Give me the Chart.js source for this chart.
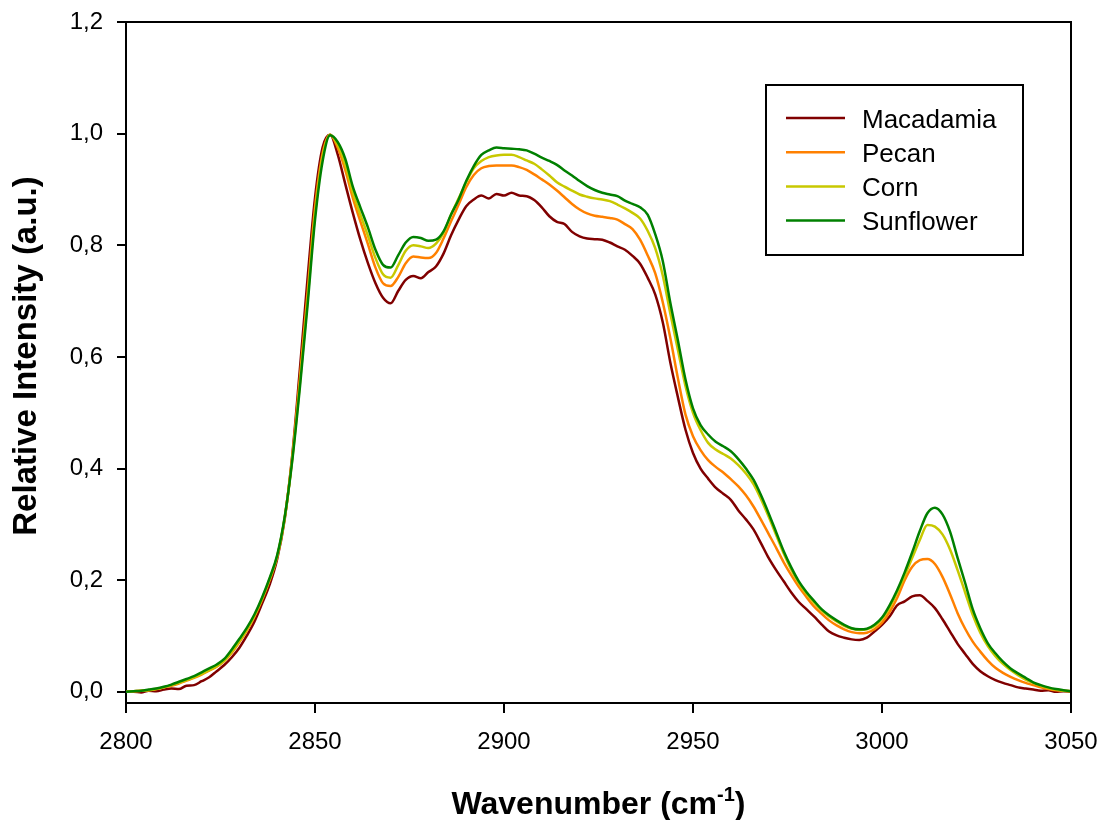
<!DOCTYPE html>
<html>
<head>
<meta charset="utf-8">
<title>Raman spectra - C-H stretching region</title>
<script src="https://cdn.jsdelivr.net/npm/chart.js@4.4.0/dist/chart.umd.min.js"></script>
<style>
  html, body { margin: 0; padding: 0; background: #fff; }
  #chart { display: block; }
</style>
</head>
<body>
<canvas id="chart" width="1104" height="820"></canvas>
<script>
// Wavenumber grid (cm-1)
const wavenumbers = [
  2800, 2802, 2804, 2806, 2808, 2810, 2812, 2814, 2816, 2818,
  2820, 2822, 2824, 2826, 2828, 2830, 2832, 2834, 2836, 2838,
  2840, 2842, 2844, 2846, 2848, 2850, 2852, 2854, 2856, 2858,
  2860, 2862, 2864, 2866, 2868, 2870, 2872, 2874, 2876, 2878,
  2880, 2882, 2884, 2886, 2888, 2890, 2892, 2894, 2896, 2898,
  2900, 2902, 2904, 2906, 2908, 2910, 2912, 2914, 2916, 2918,
  2920, 2922, 2924, 2926, 2928, 2930, 2932, 2934, 2936, 2938,
  2940, 2942, 2944, 2946, 2948, 2950, 2952, 2954, 2956, 2958,
  2960, 2962, 2964, 2966, 2968, 2970, 2972, 2974, 2976, 2978,
  2980, 2982, 2984, 2986, 2988, 2990, 2992, 2994, 2996, 2998,
  3000, 3002, 3004, 3006, 3008, 3010, 3012, 3014, 3016, 3018,
  3020, 3022, 3024, 3026, 3028, 3030, 3032, 3034, 3036, 3038,
  3040, 3042, 3044, 3046, 3048, 3050
];

const macadamia = [
  0.000, 0.000, -0.001, 0.002, 0.001, 0.004, 0.006, 0.005, 0.011, 0.012,
  0.019, 0.026, 0.037, 0.048, 0.062, 0.079, 0.101, 0.126, 0.158, 0.192,
  0.238, 0.310, 0.425, 0.578, 0.738, 0.885, 0.975, 0.998, 0.963, 0.910,
  0.858, 0.810, 0.768, 0.732, 0.706, 0.696, 0.718, 0.738, 0.745, 0.741,
  0.752, 0.762, 0.785, 0.818, 0.846, 0.870, 0.882, 0.889, 0.884, 0.892,
  0.889, 0.894, 0.889, 0.888, 0.881, 0.868, 0.852, 0.842, 0.838, 0.824,
  0.816, 0.812, 0.811, 0.810, 0.805, 0.798, 0.792, 0.781, 0.767, 0.742,
  0.712, 0.662, 0.590, 0.528, 0.470, 0.428, 0.400, 0.382, 0.366, 0.355,
  0.344, 0.325, 0.309, 0.291, 0.266, 0.240, 0.218, 0.198, 0.178, 0.161,
  0.148, 0.135, 0.121, 0.108, 0.101, 0.097, 0.094, 0.093, 0.097, 0.108,
  0.120, 0.135, 0.155, 0.162, 0.171, 0.173, 0.163, 0.150, 0.130, 0.108,
  0.086, 0.068, 0.050, 0.037, 0.028, 0.021, 0.016, 0.012, 0.008, 0.006,
  0.004, 0.002, 0.003, 0.000, 0.001, 0.000
];

const pecan = [
  0.000, 0.001, 0.002, 0.003, 0.005, 0.008, 0.011, 0.015, 0.020, 0.025,
  0.031, 0.038, 0.045, 0.055, 0.070, 0.089, 0.110, 0.135, 0.165, 0.200,
  0.242, 0.313, 0.422, 0.562, 0.712, 0.867, 0.964, 0.998, 0.975, 0.935,
  0.885, 0.843, 0.802, 0.760, 0.732, 0.727, 0.743, 0.768, 0.780, 0.778,
  0.777, 0.786, 0.812, 0.843, 0.873, 0.904, 0.926, 0.938, 0.942, 0.943,
  0.943, 0.943, 0.940, 0.935, 0.927, 0.918, 0.909, 0.898, 0.886, 0.874,
  0.864, 0.857, 0.853, 0.851, 0.849, 0.846, 0.838, 0.829, 0.810, 0.782,
  0.750, 0.698, 0.634, 0.562, 0.497, 0.458, 0.433, 0.415, 0.403, 0.393,
  0.381, 0.368, 0.352, 0.332, 0.308, 0.283, 0.258, 0.232, 0.209, 0.188,
  0.170, 0.153, 0.140, 0.128, 0.119, 0.112, 0.107, 0.105, 0.106, 0.112,
  0.124, 0.143, 0.168, 0.200, 0.224, 0.236, 0.238, 0.229, 0.206, 0.175,
  0.141, 0.113, 0.090, 0.072, 0.056, 0.043, 0.034, 0.027, 0.021, 0.016,
  0.012, 0.008, 0.005, 0.003, 0.002, 0.001
];

const corn = [
  0.000, 0.001, 0.002, 0.003, 0.005, 0.008, 0.012, 0.016, 0.021, 0.026,
  0.032, 0.039, 0.046, 0.056, 0.072, 0.091, 0.112, 0.137, 0.167, 0.202,
  0.243, 0.312, 0.418, 0.552, 0.700, 0.855, 0.958, 0.998, 0.980, 0.945,
  0.895, 0.855, 0.817, 0.777, 0.748, 0.742, 0.764, 0.790, 0.800, 0.798,
  0.795, 0.803, 0.822, 0.855, 0.884, 0.913, 0.938, 0.951, 0.958, 0.961,
  0.962, 0.962, 0.958, 0.952, 0.946, 0.936, 0.925, 0.913, 0.905, 0.898,
  0.891, 0.887, 0.884, 0.882, 0.879, 0.873, 0.866, 0.858, 0.848, 0.826,
  0.795, 0.746, 0.678, 0.613, 0.548, 0.500, 0.469, 0.446, 0.434, 0.426,
  0.418, 0.406, 0.391, 0.372, 0.345, 0.314, 0.281, 0.248, 0.219, 0.195,
  0.176, 0.160, 0.146, 0.135, 0.126, 0.118, 0.113, 0.111, 0.112, 0.118,
  0.131, 0.151, 0.178, 0.208, 0.240, 0.272, 0.299, 0.296, 0.282, 0.255,
  0.218, 0.178, 0.138, 0.106, 0.082, 0.064, 0.050, 0.039, 0.030, 0.022,
  0.016, 0.011, 0.007, 0.004, 0.002, 0.001
];

const sunflower = [
  0.000, 0.001, 0.002, 0.004, 0.006, 0.009, 0.013, 0.018, 0.023, 0.028,
  0.035, 0.042, 0.049, 0.059, 0.076, 0.095, 0.115, 0.139, 0.169, 0.204,
  0.245, 0.314, 0.415, 0.545, 0.690, 0.845, 0.950, 0.997, 0.985, 0.955,
  0.905, 0.868, 0.832, 0.792, 0.765, 0.760, 0.782, 0.805, 0.815, 0.813,
  0.808, 0.810, 0.825, 0.855, 0.882, 0.915, 0.942, 0.962, 0.970, 0.975,
  0.974, 0.973, 0.972, 0.970, 0.964, 0.957, 0.951, 0.944, 0.934, 0.925,
  0.915, 0.906, 0.899, 0.894, 0.891, 0.888, 0.880, 0.874, 0.868, 0.855,
  0.820, 0.772, 0.697, 0.630, 0.560, 0.508, 0.478, 0.461, 0.448, 0.440,
  0.431, 0.417, 0.400, 0.380, 0.352, 0.320, 0.286, 0.252, 0.223, 0.198,
  0.179, 0.163, 0.148, 0.137, 0.128, 0.120, 0.114, 0.112, 0.113, 0.120,
  0.133, 0.155, 0.182, 0.214, 0.250, 0.288, 0.320, 0.330, 0.318, 0.287,
  0.240, 0.195, 0.148, 0.114, 0.087, 0.069, 0.054, 0.042, 0.033, 0.025,
  0.017, 0.012, 0.008, 0.005, 0.003, 0.001
];

const seriesNames = ['Macadamia', 'Pecan', 'Corn', 'Sunflower'];
const seriesColors = ['#800000', '#ff8000', '#c8c800', '#008000'];
const seriesValues = [macadamia, pecan, corn, sunflower];

const xTicks = [2800, 2850, 2900, 2950, 3000, 3050];
const yTicks = [0, 0.2, 0.4, 0.6, 0.8, 1.0, 1.2];
const yTickLabels = ['0,0', '0,2', '0,4', '0,6', '0,8', '1,0', '1,2'];

const FONT = '"Liberation Sans", Arial, Helvetica, sans-serif';

// axis titles, top/right frame and boxed legend
const framePlugin = {
    id: 'frame',
    afterDraw(chart) {
        const ctx = chart.ctx;
        const a = chart.chartArea;
        ctx.save();

        // top and right border of the plot box
        ctx.strokeStyle = '#000';
        ctx.lineWidth = 2;
        ctx.beginPath();
        ctx.moveTo(a.left, a.top);
        ctx.lineTo(a.right, a.top);
        ctx.lineTo(a.right, a.bottom);
        ctx.stroke();

        // x title with superscript
        ctx.fillStyle = '#000';
        ctx.textBaseline = 'alphabetic';
        ctx.textAlign = 'left';
        const mainFont = 'bold 32px ' + FONT;
        const supFont = 'bold 20px ' + FONT;
        ctx.font = mainFont;
        const t1 = 'Wavenumber (cm';
        const t3 = ')';
        const w1 = ctx.measureText(t1).width;
        const w3 = ctx.measureText(t3).width;
        ctx.font = supFont;
        const t2 = '-1';
        const w2 = ctx.measureText(t2).width;
        const cx = (a.left + a.right) / 2;
        let x = cx - (w1 + w2 + w3) / 2;
        const base = 814;
        ctx.font = mainFont;
        ctx.fillText(t1, x, base);
        x += w1;
        ctx.font = supFont;
        ctx.fillText(t2, x, base - 13);
        x += w2;
        ctx.font = mainFont;
        ctx.fillText(t3, x, base);

        // y title
        ctx.save();
        ctx.translate(36, 356);
        ctx.rotate(-Math.PI / 2);
        ctx.font = 'bold 33px ' + FONT;
        ctx.textAlign = 'center';
        ctx.fillText('Relative Intensity (a.u.)', 0, 0);
        ctx.restore();

        // legend box
        const lx = a.right - 305, ly = a.top + 63;
        ctx.lineWidth = 2;
        ctx.strokeRect(lx, ly, 257, 170);
        ctx.font = '26px ' + FONT;
        ctx.textAlign = 'left';
        chart.data.datasets.forEach((ds, i) => {
            const ry = ly + 33 + i * 34.2;
            ctx.strokeStyle = ds.borderColor;
            ctx.lineWidth = 2.5;
            ctx.beginPath();
            ctx.moveTo(lx + 20, ry);
            ctx.lineTo(lx + 79, ry);
            ctx.stroke();
            ctx.fillStyle = '#000';
            ctx.fillText(ds.label, lx + 96, ry + 9.5);
        });
        ctx.restore();
    }
};

document.addEventListener('DOMContentLoaded', function() {
    const ctx = document.getElementById('chart').getContext('2d');

    const datasets = seriesNames.map((name, i) => ({
        label: name,
        data: wavenumbers.map((w, j) => ({ x: w, y: seriesValues[i][j] })),
        borderColor: seriesColors[i],
        borderWidth: 2.5,
        pointRadius: 0,
        fill: false,
        cubicInterpolationMode: 'monotone',
        order: seriesNames.length - i
    }));

    new Chart(ctx, {
        type: 'line',
        data: { datasets: datasets },
        options: {
            responsive: false,
            animation: false,
            devicePixelRatio: 1,
            layout: { padding: { top: 22, right: 33, left: 0, bottom: 0 } },
            plugins: {
                legend: { display: false },
                tooltip: { enabled: false }
            },
            scales: {
                x: {
                    type: 'linear',
                    min: 2800,
                    max: 3050,
                    afterBuildTicks: scale => {
                        scale.ticks = xTicks.map(v => ({ value: v }));
                    },
                    afterFit: scale => {
                        scale.height = 117;
                        scale.paddingLeft = 0;
                        scale.paddingRight = 0;
                    },
                    ticks: {
                        color: '#000',
                        font: { family: FONT, size: 24 },
                        padding: 15,
                        maxRotation: 0,
                        autoSkip: false,
                        callback: v => String(v)
                    },
                    grid: {
                        drawOnChartArea: false,
                        drawTicks: true,
                        tickLength: 10,
                        color: '#000',
                        lineWidth: 2
                    },
                    border: { display: true, color: '#000', width: 2 }
                },
                y: {
                    type: 'linear',
                    min: -0.02,
                    max: 1.2,
                    afterBuildTicks: scale => {
                        scale.ticks = yTicks.map(v => ({ value: v }));
                    },
                    afterFit: scale => {
                        scale.width = 126;
                        scale.paddingTop = 0;
                        scale.paddingBottom = 0;
                    },
                    ticks: {
                        color: '#000',
                        font: { family: FONT, size: 24 },
                        padding: 14,
                        autoSkip: false,
                        callback: (v, i) => yTickLabels[i]
                    },
                    grid: {
                        drawOnChartArea: false,
                        drawTicks: true,
                        tickLength: 9,
                        color: '#000',
                        lineWidth: 2
                    },
                    border: { display: true, color: '#000', width: 2 }
                }
            }
        },
        plugins: [framePlugin]
    });
});
</script>
</body>
</html>
